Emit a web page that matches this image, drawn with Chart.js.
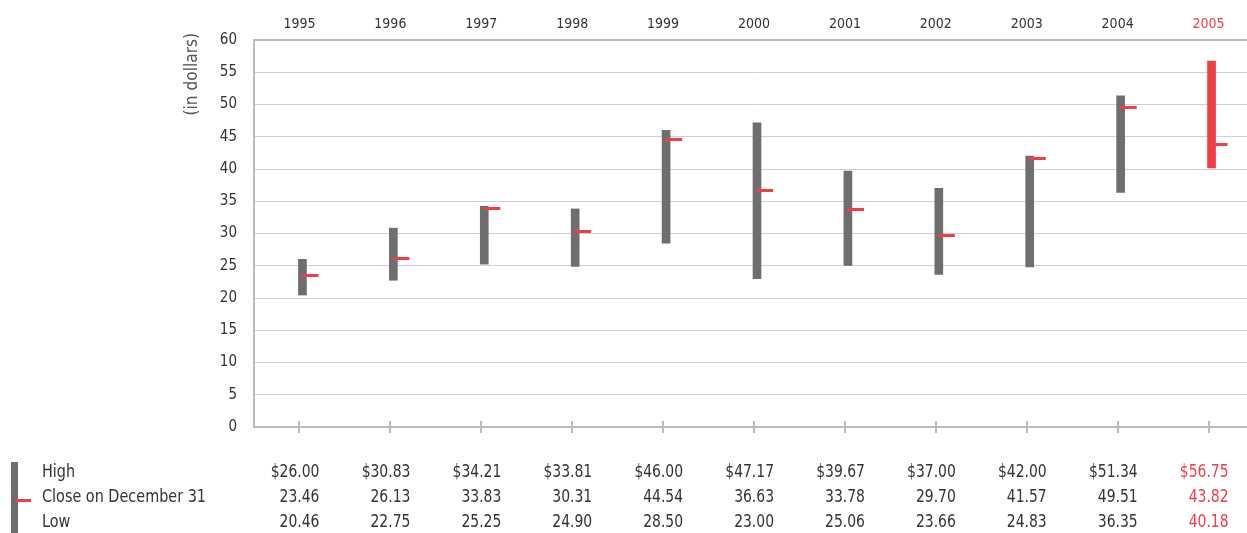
<!DOCTYPE html>
<html>
<head>
<meta charset="utf-8">
<script src="https://cdn.jsdelivr.net/npm/chart.js@4"></script>
<style>
  html, body { margin: 0; padding: 0; background: #fff; overflow: hidden; }
  #wrap { width: 1265px; height: 533px; }
</style>
</head>
<body>
<div id="wrap"><canvas id="chart" width="1265" height="533"></canvas></div>
<script>
const years = ["1995", "1996", "1997", "1998", "1999", "2000", "2001", "2002", "2003", "2004", "2005"];
const high = [26.00, 30.83, 34.21, 33.81, 46.00, 47.17, 39.67, 37.00, 42.00, 51.34, 56.75];
const close = [23.46, 26.13, 33.83, 30.31, 44.54, 36.63, 33.78, 29.70, 41.57, 49.51, 43.82];
const low = [20.46, 22.75, 25.25, 24.90, 28.50, 23.00, 25.06, 23.66, 24.83, 36.35, 40.18];
const rowLabels = ["High", "Close on December 31", "Low"];
const highlightYear = "2005";

const GRAY = "#6e6e6e";
const RED = "#ef3e45";
const TEXT = "#333";
const AXIS = "#bcbcbc";
const FONT = "'Liberation Sans Narrow', 'DejaVu Sans Condensed', sans-serif";

const isHi = (i) => years[i] === highlightYear;

// close marker: short red dash starting at the bar centre, going right
const dash = document.createElement("canvas");
dash.width = 36;
dash.height = 3;
{
	const c = dash.getContext("2d");
	c.fillStyle = RED;
	c.fillRect(17, 0, 17, 3);
}

const fmt = (v, dollar) => (dollar ? "$" : "") + v.toFixed(2);

// text squeezed a little to look like the condensed face of the original
function narrowText(ctx, str, x, y, sx) {
	ctx.save();
	ctx.translate(x, y);
	ctx.scale(sx, 1);
	ctx.fillText(str, 0, 0);
	ctx.restore();
}

const extras = {
	id: "extras",
	// bars sit a little right of the axis ticks in the original
	beforeDatasetsDraw(chart) {
		chart.ctx.save();
		chart.ctx.translate(3, 0);
	},
	afterDatasetsDraw(chart) {
		chart.ctx.restore();
	},
	afterDraw(chart) {
		const { ctx, chartArea, scales } = chart;
		const x = scales.x;
		ctx.save();

		// tick marks on the bottom axis
		ctx.strokeStyle = AXIS;
		ctx.lineWidth = 2;
		years.forEach((y, i) => {
			const px = Math.round(x.getPixelForValue(i));
			ctx.beginPath();
			ctx.moveTo(px, chartArea.bottom - 6);
			ctx.lineTo(px, chartArea.bottom + 6);
			ctx.stroke();
		});

		// axis title
		ctx.save();
		ctx.translate(chartArea.left - 62, chartArea.top - 7);
		ctx.rotate(-Math.PI / 2);
		ctx.font = "18px " + FONT;
		ctx.fillStyle = "#555";
		ctx.textAlign = "right";
		ctx.textBaseline = "middle";
		narrowText(ctx, "(in dollars)", 0, 0, 0.95);
		ctx.restore();

		// legend icon
		ctx.fillStyle = GRAY;
		ctx.fillRect(11, 462, 7, 71);
		ctx.fillStyle = RED;
		ctx.fillRect(15, 499, 16, 3);

		// table
		const rows = [high, close, low];
		const rowY = [472, 497, 522];
		ctx.font = "18px " + FONT;
		ctx.textBaseline = "middle";
		rows.forEach((vals, r) => {
			ctx.fillStyle = TEXT;
			ctx.textAlign = "left";
			narrowText(ctx, rowLabels[r], 42, rowY[r], 0.89);
			ctx.textAlign = "right";
			vals.forEach((v, i) => {
				ctx.fillStyle = isHi(i) ? RED : TEXT;
				narrowText(ctx, fmt(v, r === 0), x.getPixelForValue(i) + 20, rowY[r], 0.86);
			});
		});
		ctx.restore();
	},
};

new Chart(document.getElementById("chart"), {
	data: {
		labels: years,
		datasets: [
			{
				type: "line",
				data: close,
				showLine: false,
				pointStyle: dash,
				pointRadius: 10,
				order: 0,
			},
			{
				type: "bar",
				data: years.map((y, i) => [low[i], high[i]]),
				backgroundColor: years.map((y, i) => (isHi(i) ? RED : GRAY)),
				barThickness: 8,
				borderWidth: 0,
				order: 1,
			},
		],
	},
	options: {
		responsive: false,
		animation: false,
		events: [],
		layout: { padding: { top: 0, left: 0, right: 0, bottom: 106 } },
		plugins: {
			legend: { display: false },
			tooltip: { enabled: false },
		},
		scales: {
			x: {
				type: "category",
				position: "top",
				offset: true,
				grid: { display: false, drawTicks: false },
				border: { display: true, color: AXIS, width: 2 },
				ticks: {
					font: { family: FONT, size: 14 },
					color: (c) => (isHi(c.index) ? RED : TEXT),
					padding: 7,
					maxRotation: 0,
				},
				afterFit: (s) => {
					s.height = 40;
					s.paddingLeft = 0;
					s.paddingRight = 0;
				},
			},
			y: {
				min: 0,
				max: 60,
				grid: {
					drawTicks: false,
					color: (c) => (c.tick.value === 0 ? AXIS : "#d0d0d0"),
					lineWidth: (c) => (c.tick.value === 0 ? 2 : 1),
				},
				border: { display: true, color: AXIS, width: 2 },
				ticks: {
					stepSize: 5,
					font: { family: FONT, size: 15 },
					color: TEXT,
					padding: 17,
				},
				afterFit: (s) => { s.width = 254; },
			},
		},
	},
	plugins: [extras],
});
</script>
</body>
</html>
